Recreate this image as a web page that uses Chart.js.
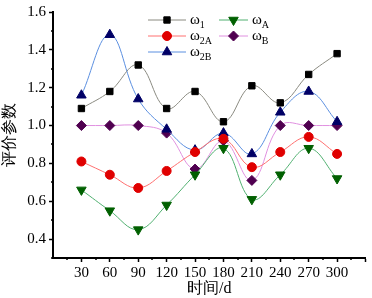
<!DOCTYPE html>
<html>
<head>
<meta charset="utf-8">
<script src="https://cdn.jsdelivr.net/npm/chart.js@4/dist/chart.umd.min.js"></script>
<style>
  html, body { margin: 0; padding: 0; background: #fff; }
  #wrap { width: 372px; height: 298px; }
</style>
</head>
<body>
<div id="wrap"><canvas id="evalChart" width="372" height="298"></canvas></div>
<script>
// 时间 (d)
const days = [30, 60, 90, 120, 150, 180, 210, 240, 270, 300];

// 评价参数
const omega1  = [1.09, 1.18, 1.32, 1.09, 1.18, 1.02, 1.21, 1.12, 1.27, 1.38];
const omega2A = [0.81, 0.74, 0.67, 0.76, 0.86, 0.93, 0.78, 0.86, 0.94, 0.85];
const omega2B = [1.16, 1.48, 1.14, 0.98, 0.87, 0.96, 0.85, 1.07, 1.18, 1.02];
const omegaA  = [0.66, 0.55, 0.45, 0.58, 0.74, 0.88, 0.61, 0.74, 0.88, 0.72];
const omegaB  = [1.00, 1.00, 1.00, 0.96, 0.77, 0.92, 0.71, 1.00, 1.00, 1.00];

const subs = ['1', '2A', '2B', 'A', 'B'];

const FONT = "'Liberation Serif', 'Times New Roman', serif";

function series(sub, values, line, mark, style, rot) {
  return {
    label: '\u03c9' + sub,
    sub: sub,
    data: days.map((d, i) => ({ x: d, y: values[i] })),
    borderColor: line,
    backgroundColor: mark,
    pointBorderColor: mark,
    pointBackgroundColor: mark,
    pointStyle: style,
    pointRotation: rot || 0,
    pointRadius: style === 'rectRot' ? 5 : (style === 'triangle' ? 5.5 : 4.5),
    borderWidth: 1,
    tension: 0.4,
    fill: false
  };
}

const datasets = [
  series(subs[0], omega1, '#8a8a80', '#000000', 'rect'),
  series(subs[1], omega2A, '#ff7070', '#e00000', 'circle'),
  series(subs[2], omega2B, '#5b8fe0', '#000066', 'triangle'),
  series(subs[3], omegaA, '#50b070', '#006000', 'triangle', 180),
  series(subs[4], omegaB, '#e090e0', '#500050', 'rectRot')
];

// major ticks only get a full-length mark, minor ones are drawn short below
const isMajorX = v => v % 30 === 0;
const isMajorY = v => Math.round(v * 10) % 2 === 0;

const minorTicks = {
  id: 'minorTicks',
  afterDraw(chart) {
    const ctx = chart.ctx;
    const xs = chart.scales.x, ys = chart.scales.y;
    ctx.save();
    ctx.strokeStyle = '#000';
    ctx.lineWidth = 1.5;
    ctx.beginPath();
    xs.ticks.forEach(t => {
      if (!isMajorX(t.value)) {
        const px = Math.round(xs.getPixelForValue(t.value));
        ctx.moveTo(px, xs.top);
        ctx.lineTo(px, xs.top + 2);
      }
    });
    ys.ticks.forEach(t => {
      if (!isMajorY(t.value)) {
        const py = Math.round(ys.getPixelForValue(t.value));
        ctx.moveTo(ys.right, py);
        ctx.lineTo(ys.right - 2, py);
      }
    });
    ctx.stroke();
    ctx.restore();
  }
};

// legend drawn by hand so the subscripts look right
const legendPlugin = {
  id: 'subLegend',
  afterDraw(chart) {
    const ctx = chart.ctx;
    const cols = [{ x0: 148, x1: 186, tx: 190 }, { x0: 219, x1: 248, tx: 252 }];
    const place = [[0, 0], [0, 1], [0, 2], [1, 0], [1, 1]];
    datasets.forEach((ds, i) => {
      const c = cols[place[i][0]];
      const y = 20 + place[i][1] * 16;
      ctx.save();
      ctx.strokeStyle = ds.borderColor;
      ctx.lineWidth = 1;
      ctx.beginPath();
      ctx.moveTo(c.x0, y);
      ctx.lineTo(c.x1, y);
      ctx.stroke();
      ctx.fillStyle = ds.pointBackgroundColor;
      ctx.strokeStyle = ds.pointBorderColor;
      ctx.beginPath();
      Chart.helpers.drawPoint(ctx, {
        pointStyle: ds.pointStyle,
        rotation: ds.pointRotation,
        radius: ds.pointRadius,
        borderWidth: 1
      }, (c.x0 + c.x1) / 2, y);
      ctx.fillStyle = '#000';
      ctx.textBaseline = 'middle';
      ctx.font = '15px ' + FONT;
      ctx.fillText('\u03c9', c.tx, y);
      const w = ctx.measureText('\u03c9').width;
      ctx.font = '10px ' + FONT;
      ctx.fillText(ds.sub, c.tx + w, y + 5);
      ctx.restore();
    });
  }
};

new Chart(document.getElementById('evalChart'), {
  type: 'line',
  data: { datasets: datasets },
  options: {
    responsive: false,
    animation: false,
    layout: { padding: { top: 6, right: 3, left: 0, bottom: 0 } },
    plugins: { legend: { display: false }, tooltip: { enabled: false } },
    scales: {
      x: {
        type: 'linear',
        min: 0,
        max: 330,
        afterFit(s) { s.height = 40; },
        border: { color: '#000', width: 2 },
        grid: {
          drawOnChartArea: false,
          tickLength: 4,
          tickWidth: 1.5,
          tickColor: c => (c.tick && isMajorX(c.tick.value) && c.tick.value > 0) ? '#000' : 'rgba(0,0,0,0)'
        },
        ticks: {
          stepSize: 15,
          autoSkip: false,
          maxRotation: 0,
          padding: 2,
          color: '#000',
          font: { family: FONT, size: 15 },
          callback: v => (v % 30 === 0 && v >= 30 && v <= 300) ? String(v) : ''
        },
        title: {
          display: true,
          text: '时间/d',
          color: '#000',
          padding: { top: 0, bottom: 0 },
          font: { family: FONT, size: 16 }
        }
      },
      y: {
        min: 0.3,
        max: 1.6,
        afterFit(s) { s.width = 53; },
        border: { color: '#000', width: 2 },
        grid: {
          drawOnChartArea: false,
          tickLength: 4,
          tickWidth: 1.5,
          tickColor: c => (c.tick && isMajorY(c.tick.value) && c.tick.value > 0.35) ? '#000' : 'rgba(0,0,0,0)'
        },
        ticks: {
          stepSize: 0.1,
          autoSkip: false,
          padding: 3,
          color: '#000',
          font: { family: FONT, size: 15 },
          callback: v => {
            const r = Math.round(v * 10);
            return (r % 2 === 0 && r >= 4) ? (r / 10).toFixed(1) : '';
          }
        },
        title: {
          display: true,
          text: '评价参数',
          color: '#000',
          padding: { top: 0, bottom: 0 },
          font: { family: FONT, size: 16 }
        }
      }
    }
  },
  plugins: [minorTicks, legendPlugin]
});
</script>
</body>
</html>
